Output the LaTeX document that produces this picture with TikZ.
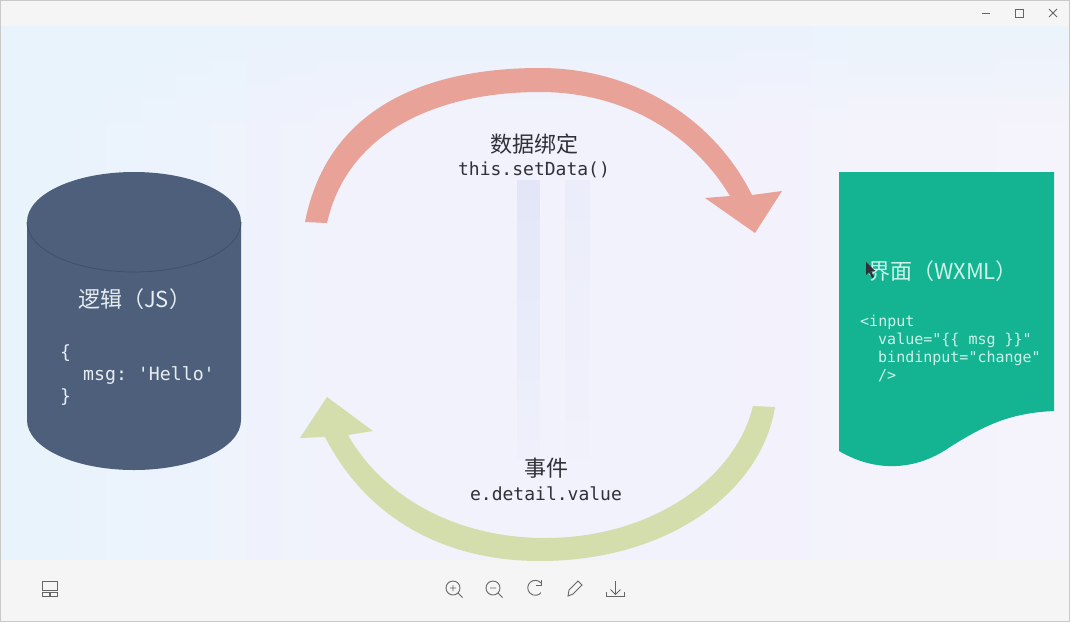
\documentclass[tikz,border=0pt]{standalone}
\usepackage{fontspec}
\setmainfont{Noto Sans CJK SC}
\setmonofont{DejaVu Sans Mono}
\usetikzlibrary{calc}
\definecolor{bgA}{HTML}{E8F3FC}
\definecolor{bgB}{HTML}{F2F2FC}
\definecolor{bgC}{HTML}{F5F3FB}
\definecolor{barc}{HTML}{F5F5F5}
\definecolor{edgec}{HTML}{C9C9C9}
\definecolor{cyl}{HTML}{4E5F7C}
\definecolor{cylL}{HTML}{3F4F68}
\definecolor{doc}{HTML}{14B392}
\definecolor{redarc}{HTML}{E8A298}
\definecolor{greenarc}{HTML}{D3DEAC}
\definecolor{txt}{HTML}{2F3136}
\definecolor{lighttxt}{HTML}{E6EEF0}
\definecolor{doctxt}{HTML}{CDF3EA}
\definecolor{icon}{HTML}{666666}
\definecolor{stripe}{HTML}{DDE3F6}
\tikzset{
  x=1pt,y=-1pt,
  title/.style={font=\fontsize{22}{26}\selectfont,text=txt,inner sep=0pt},
  code/.style={font=\ttfamily\fontsize{18}{20}\selectfont,text=txt,inner sep=0pt},
  cyltitle/.style={font=\fontsize{22}{26}\selectfont,text=lighttxt,inner sep=0pt,anchor=west},
  cylcode/.style={font=\ttfamily\fontsize{18.2}{20}\selectfont,text=lighttxt,inner sep=0pt,anchor=base west},
  doctitle/.style={font=\fontsize{22}{26}\selectfont,text=doctxt,inner sep=0pt,anchor=west},
  doccode/.style={font=\ttfamily\fontsize{15}{18}\selectfont,text=doctxt,inner sep=0pt,anchor=base west},
  iconline/.style={draw=icon,line width=0.9pt,fill=none},
}
\begin{document}
\begin{tikzpicture}
\useasboundingbox (0,0) rectangle (1070,622);
% window
\fill[barc] (0,0) rectangle (1070,622);
\fill[bgB] (1,26) rectangle (1069,560);
\foreach \i in {0,...,9} {
  \pgfmathsetmacro{\xa}{1+\i*35}
  \pgfmathsetmacro{\mixv}{100-\i*10}
  \fill[bgA!\mixv!bgB] (\xa,26) rectangle ({\xa+36},560);
}
\foreach \i in {0,...,9} {
  \pgfmathsetmacro{\xa}{700+\i*37}
  \pgfmathsetmacro{\mixv}{\i*10+10}
  \fill[bgC!\mixv!bgB] (\xa,26) rectangle ({\xa+38},560);
}
\foreach \i in {0,...,7} {
  \pgfmathsetmacro{\ya}{26+\i*12}
  \pgfmathsetmacro{\op}{0.7-\i*0.09}
  \fill[bgA,opacity=\op] (1,\ya) rectangle (1069,{\ya+12});
}
\foreach \i in {0,...,13} {
  \pgfmathsetmacro{\ya}{180+\i*20}
  \pgfmathsetmacro{\op}{0.75-\i*0.05}
  \fill[stripe,opacity=\op] (517,\ya) rectangle (540,{\ya+20});
  \pgfmathsetmacro{\opb}{0.3-\i*0.02}
  \fill[stripe,opacity=\opb] (565,\ya) rectangle (590,{\ya+20});
}
\draw[edgec,line width=1pt] (0.5,622) -- (0.5,0.5) -- (1069.5,0.5) -- (1069.5,622);
\draw[edgec,line width=1pt] (0,621.5) -- (1070,621.5);
% top arc arrow
\fill[redarc] (305,222) .. controls (328,105) and (430,68) .. (540,68)
  .. controls (630,68) and (712,115) .. (752,195)
  -- (782,191) -- (755,233) -- (705,198) -- (730,196)
  .. controls (690,130) and (620,92) .. (540,92)
  .. controls (440,92) and (348,130) .. (327,223) -- cycle;
% bottom arc arrow
\begin{scope}
\clip (0,26) rectangle (1070,560);
\fill[greenarc] (775,407) .. controls (762,490) and (670,561) .. (540,561)
  .. controls (440,561) and (365,515) .. (325,437)
  -- (300,438) -- (327,397) -- (373,431) -- (348,435)
  .. controls (385,500) and (460,538) .. (545,538)
  .. controls (650,538) and (735,480) .. (753,406) -- cycle;
\end{scope}
% cylinder
\fill[cyl] (27,222) .. controls (27,194) and (75,172) .. (134,172)
  .. controls (193,172) and (241,194) .. (241,222)
  -- (241,420) .. controls (241,448) and (193,470) .. (134,470)
  .. controls (75,470) and (27,448) .. (27,420) -- cycle;
\draw[cylL,line width=.8pt] (27,222) .. controls (27,250) and (75,272) .. (134,272)
  .. controls (193,272) and (241,250) .. (241,222);
% document
\fill[doc] (839,172) -- (1054,172) -- (1054,411)
  .. controls (1010,413) and (985,425) .. (950,447)
  .. controls (920,468) and (880,475) .. (839,451) -- cycle;
% texts
\node[title,anchor=center] (t1) at (534.5,144) {数据绑定};
\node[code,anchor=center] (c1) at (534,170) {this.setData()};
\node[title,anchor=center] (t2) at (546,468) {事件};
\node[code,anchor=center] (c2) at (546,494) {e.detail.value};
\node[cyltitle] (jsT) at (78,299) {逻辑（JS）};
\node[cylcode] (js1) at (60,358) {\{};
\node[cylcode] (js2) at (83,380) {msg: 'Hello'};
\node[cylcode] (js3) at (60,402) {\}};
\node[doctitle] (wxT) at (868,271) {界面（WXML）};
\node[doccode] (wx1) at (860,326) {<input};
\node[doccode] (wx2) at (878,344) {value="\{\{ msg \}\}"};
\node[doccode] (wx3) at (878,362) {bindinput="change"};
\node[doccode] (wx4) at (878,380) {/>};
% mouse pointer
\fill[txt] (866,262) -- (866,275) -- (869,272) -- (872,278) -- (874,277) -- (871,271) -- (875,271) -- cycle;
% window controls
\draw[icon,line width=1pt] (982,13) -- (990,13);
\draw[icon,line width=1pt] (1015.5,9.5) rectangle (1023.5,17.5);
\draw[icon,line width=1pt] (1049,9) -- (1057,17) (1057,9) -- (1049,17);
% toolbar icons
\draw[iconline] (42.5,581.5) rectangle (57.5,590.5);
\draw[iconline] (42.5,592.5) rectangle (49,596);
\draw[iconline] (50.5,592.5) rectangle (57.5,596);
\draw[iconline] (453,588) circle (7);
\draw[iconline] (458,593) -- (462.5,597.5) (450,588) -- (456,588) (453,585) -- (453,591);
\draw[iconline] (493,588) circle (7);
\draw[iconline] (498,593) -- (502.5,597.5) (490,588) -- (496,588);
\draw[iconline] (541,583) arc[start angle=-40,end angle=-320,radius=7.5];
\draw[iconline] (541,580) -- (541,585) -- (536,585);
\draw[iconline] (568,596) -- (569,590) -- (578,581) -- (582,585) -- (573,594) -- cycle;
\draw[iconline] (615.5,581) -- (615.5,594) (610.5,589.5) -- (615.5,594.5) -- (620.5,589.5);
\draw[iconline] (606.5,592) -- (606.5,596.5) -- (624,596.5) -- (624,592);
\end{tikzpicture}
\end{document}
